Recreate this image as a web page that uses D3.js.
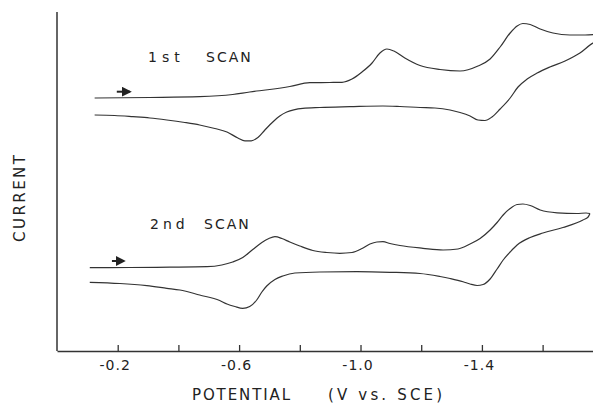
<!DOCTYPE html>
<html>
<head>
<meta charset="utf-8">
<script src="https://cdn.jsdelivr.net/npm/d3@7"></script>
<style>
  body { margin: 0; background: #fff; }
  svg { display: block; }
  text { font-family: "DejaVu Sans", sans-serif; fill: #222; }
</style>
</head>
<body>
<div id="chart"></div>
<script>
// potential (V vs SCE), current (arbitrary units)

var scan1Forward = [
  [-0.124, 25.3], [-0.306, 25.35], [-0.470, 25.43], [-0.579, 25.65], [-0.635, 25.9],
  [-0.701, 26.15], [-0.767, 26.45], [-0.833, 26.83], [-0.899, 26.85], [-0.939, 26.87],
  [-0.972, 27.2], [-1.005, 27.9], [-1.038, 28.8], [-1.064, 29.8], [-1.087, 30.2],
  [-1.110, 30.0], [-1.146, 29.3], [-1.196, 28.55], [-1.262, 28.15], [-1.328, 28.0],
  [-1.387, 28.5], [-1.427, 29.2], [-1.460, 30.4], [-1.493, 31.8], [-1.516, 32.5],
  [-1.535, 32.75], [-1.559, 32.65], [-1.592, 32.2], [-1.634, 31.8], [-1.690, 31.6],
  [-1.740, 31.6], [-1.789, 31.7]
];

var scan1Reverse = [
  [-1.789, 31.1], [-1.766, 30.8], [-1.723, 29.8], [-1.674, 29.0], [-1.624, 28.4],
  [-1.582, 27.8], [-1.549, 27.2], [-1.519, 26.4], [-1.493, 25.3], [-1.460, 24.2],
  [-1.433, 23.4], [-1.410, 23.05], [-1.387, 23.1], [-1.361, 23.5], [-1.328, 23.85],
  [-1.295, 24.1], [-1.245, 24.3], [-1.196, 24.35], [-1.130, 24.45], [-1.074, 24.5],
  [-0.965, 24.43], [-0.866, 24.35], [-0.810, 24.27], [-0.757, 23.9], [-0.734, 23.5],
  [-0.711, 22.9], [-0.685, 22.1], [-0.662, 21.35], [-0.640, 21.02], [-0.619, 21.02],
  [-0.596, 21.3], [-0.560, 21.9], [-0.520, 22.25], [-0.470, 22.6], [-0.421, 22.85],
  [-0.362, 23.1], [-0.306, 23.3], [-0.250, 23.43], [-0.190, 23.55], [-0.124, 23.6]
];

var scan2Forward = [
  [-0.108, 8.33], [-0.240, 8.35], [-0.372, 8.38], [-0.494, 8.43], [-0.543, 8.6],
  [-0.579, 8.9], [-0.612, 9.35], [-0.645, 10.15], [-0.675, 10.85], [-0.698, 11.25],
  [-0.718, 11.43], [-0.741, 11.25], [-0.767, 10.9], [-0.800, 10.5], [-0.843, 10.05],
  [-0.889, 9.85], [-0.932, 9.77], [-0.972, 9.85], [-1.005, 10.25], [-1.031, 10.7],
  [-1.054, 10.9], [-1.074, 10.93], [-1.097, 10.75], [-1.130, 10.55], [-1.206, 10.27],
  [-1.272, 10.1], [-1.321, 10.2], [-1.361, 10.7], [-1.394, 11.25], [-1.427, 12.1],
  [-1.450, 12.85], [-1.470, 13.6], [-1.493, 14.25], [-1.516, 14.65], [-1.535, 14.7],
  [-1.559, 14.55], [-1.592, 14.1], [-1.648, 13.82], [-1.713, 13.75], [-1.743, 13.8],
  [-1.756, 13.75]
];

var scan2Reverse = [
  [-1.750, 13.4], [-1.733, 13.1], [-1.667, 12.35], [-1.601, 11.8], [-1.559, 11.35],
  [-1.516, 10.6], [-1.493, 9.9], [-1.470, 9.1], [-1.450, 8.2], [-1.427, 7.2],
  [-1.404, 6.65], [-1.384, 6.55], [-1.361, 6.7], [-1.338, 6.93], [-1.295, 7.25],
  [-1.262, 7.45], [-1.196, 7.75], [-1.097, 7.87], [-0.988, 7.93], [-0.866, 7.9],
  [-0.784, 7.8], [-0.744, 7.5], [-0.718, 7.15], [-0.691, 6.5], [-0.675, 5.9],
  [-0.658, 5.1], [-0.635, 4.45], [-0.612, 4.27], [-0.586, 4.45], [-0.560, 4.7],
  [-0.536, 5.05], [-0.470, 5.6], [-0.405, 6.1], [-0.362, 6.27], [-0.296, 6.53],
  [-0.207, 6.75], [-0.108, 6.87]
];

var tickValues = [-0.2, -0.4, -0.6, -0.8, -1.0, -1.2, -1.4, -1.6];
var tickLabels = {"-0.2": "-0.2", "-0.6": "-0.6", "-1": "-1.0", "-1.4": "-1.4"};

// scan direction arrows: [start potential, end potential, current]
var arrows = [[-0.197, -0.240, 25.93], [-0.181, -0.220, 9.0]];

var svgWidth = 593;
var svgHeight = 404;

var margin = {top: 12, right: 0, bottom: 53, left: 57};
var width = svgWidth - margin.left - margin.right;
var height = svgHeight - margin.top - margin.bottom;

var svg = d3.select("#chart")
  .append("svg")
  .attr("width", svgWidth)
  .attr("height", svgHeight);

var chartGroup = svg.append("g")
  .attr("transform", `translate(${margin.left}, ${margin.top})`);

var xScale = d3.scaleLinear()
  .domain([0, -1.766])
  .range([0, width]);

var yScale = d3.scaleLinear()
  .domain([0, 33.9])
  .range([height, 0]);

// clip so the first scan runs off the right edge like the original
chartGroup.append("clipPath")
  .attr("id", "plotclip")
  .append("rect")
  .attr("x", 0).attr("y", -margin.top)
  .attr("width", width).attr("height", height + margin.top);

var line = d3.line()
  .x(d => xScale(d[0]))
  .y(d => yScale(d[1]))
  .curve(d3.curveMonotoneX);

// each branch is monotone in potential; reverse branch starts at the turning point
var branches = [
  scan1Forward,
  [scan1Forward[scan1Forward.length - 1]].concat(scan1Reverse),
  scan2Forward,
  [scan2Forward[scan2Forward.length - 1]].concat(scan2Reverse)
];

chartGroup.append("g")
  .attr("clip-path", "url(#plotclip)")
  .selectAll("path")
  .data(branches)
  .enter()
  .append("path")
  .attr("d", line)
  .attr("fill", "none")
  .attr("stroke", "#333")
  .attr("stroke-width", 1.2)
  .attr("stroke-linejoin", "round");

// axes
var bottomAxis = d3.axisBottom(xScale)
  .tickValues(tickValues)
  .tickSizeInner(-6)
  .tickSizeOuter(0)
  .tickPadding(9)
  .tickFormat(d => tickLabels[String(d)] || "");

var xAxisG = chartGroup.append("g")
  .attr("transform", `translate(0, ${height})`)
  .call(bottomAxis);

xAxisG.select(".domain").attr("stroke", "#333").attr("stroke-width", 1.5);
xAxisG.selectAll(".tick line").attr("stroke", "#333").attr("stroke-width", 1.3);
xAxisG.selectAll(".tick text")
  .attr("font-family", "DejaVu Sans, sans-serif")
  .attr("font-size", 14)
  .attr("letter-spacing", 1)
  .attr("dx", -3)
  .attr("fill", "#222");

chartGroup.append("line")
  .attr("x1", 0).attr("x2", 0)
  .attr("y1", 0).attr("y2", height)
  .attr("stroke", "#333")
  .attr("stroke-width", 1.5);

// arrows
svg.append("defs").append("marker")
  .attr("id", "head")
  .attr("viewBox", "0 0 10 10")
  .attr("refX", 8).attr("refY", 5)
  .attr("markerWidth", 5).attr("markerHeight", 5)
  .attr("orient", "auto")
  .append("path")
  .attr("d", "M0,0 L10,5 L0,10 z")
  .attr("fill", "#222");

chartGroup.selectAll(".arrow")
  .data(arrows)
  .enter()
  .append("line")
  .attr("class", "arrow")
  .attr("x1", d => xScale(d[0]))
  .attr("x2", d => xScale(d[1]))
  .attr("y1", d => yScale(d[2]))
  .attr("y2", d => yScale(d[2]))
  .attr("stroke", "#222")
  .attr("stroke-width", 2)
  .attr("marker-end", "url(#head)");

// scan labels
svg.append("text").attr("x", 148).attr("y", 62)
  .attr("font-size", 14).attr("letter-spacing", 5).text("1st");
svg.append("text").attr("x", 206).attr("y", 62)
  .attr("font-size", 14).attr("letter-spacing", 2).text("SCAN");
svg.append("text").attr("x", 150).attr("y", 229)
  .attr("font-size", 14).attr("letter-spacing", 4).text("2nd");
svg.append("text").attr("x", 204).attr("y", 229)
  .attr("font-size", 14).attr("letter-spacing", 2).text("SCAN");

// axis titles
svg.append("text").attr("x", 192).attr("y", 400)
  .attr("font-size", 15)
  .attr("textLength", 98).attr("lengthAdjust", "spacing")
  .text("POTENTIAL");
svg.append("text").attr("x", 328).attr("y", 400)
  .attr("font-size", 15)
  .attr("textLength", 114).attr("lengthAdjust", "spacing")
  .text("(V vs. SCE)");

svg.append("text")
  .attr("transform", "translate(25, 242) rotate(-90)")
  .attr("font-size", 15)
  .attr("textLength", 87).attr("lengthAdjust", "spacing")
  .text("CURRENT");
</script>
</body>
</html>
